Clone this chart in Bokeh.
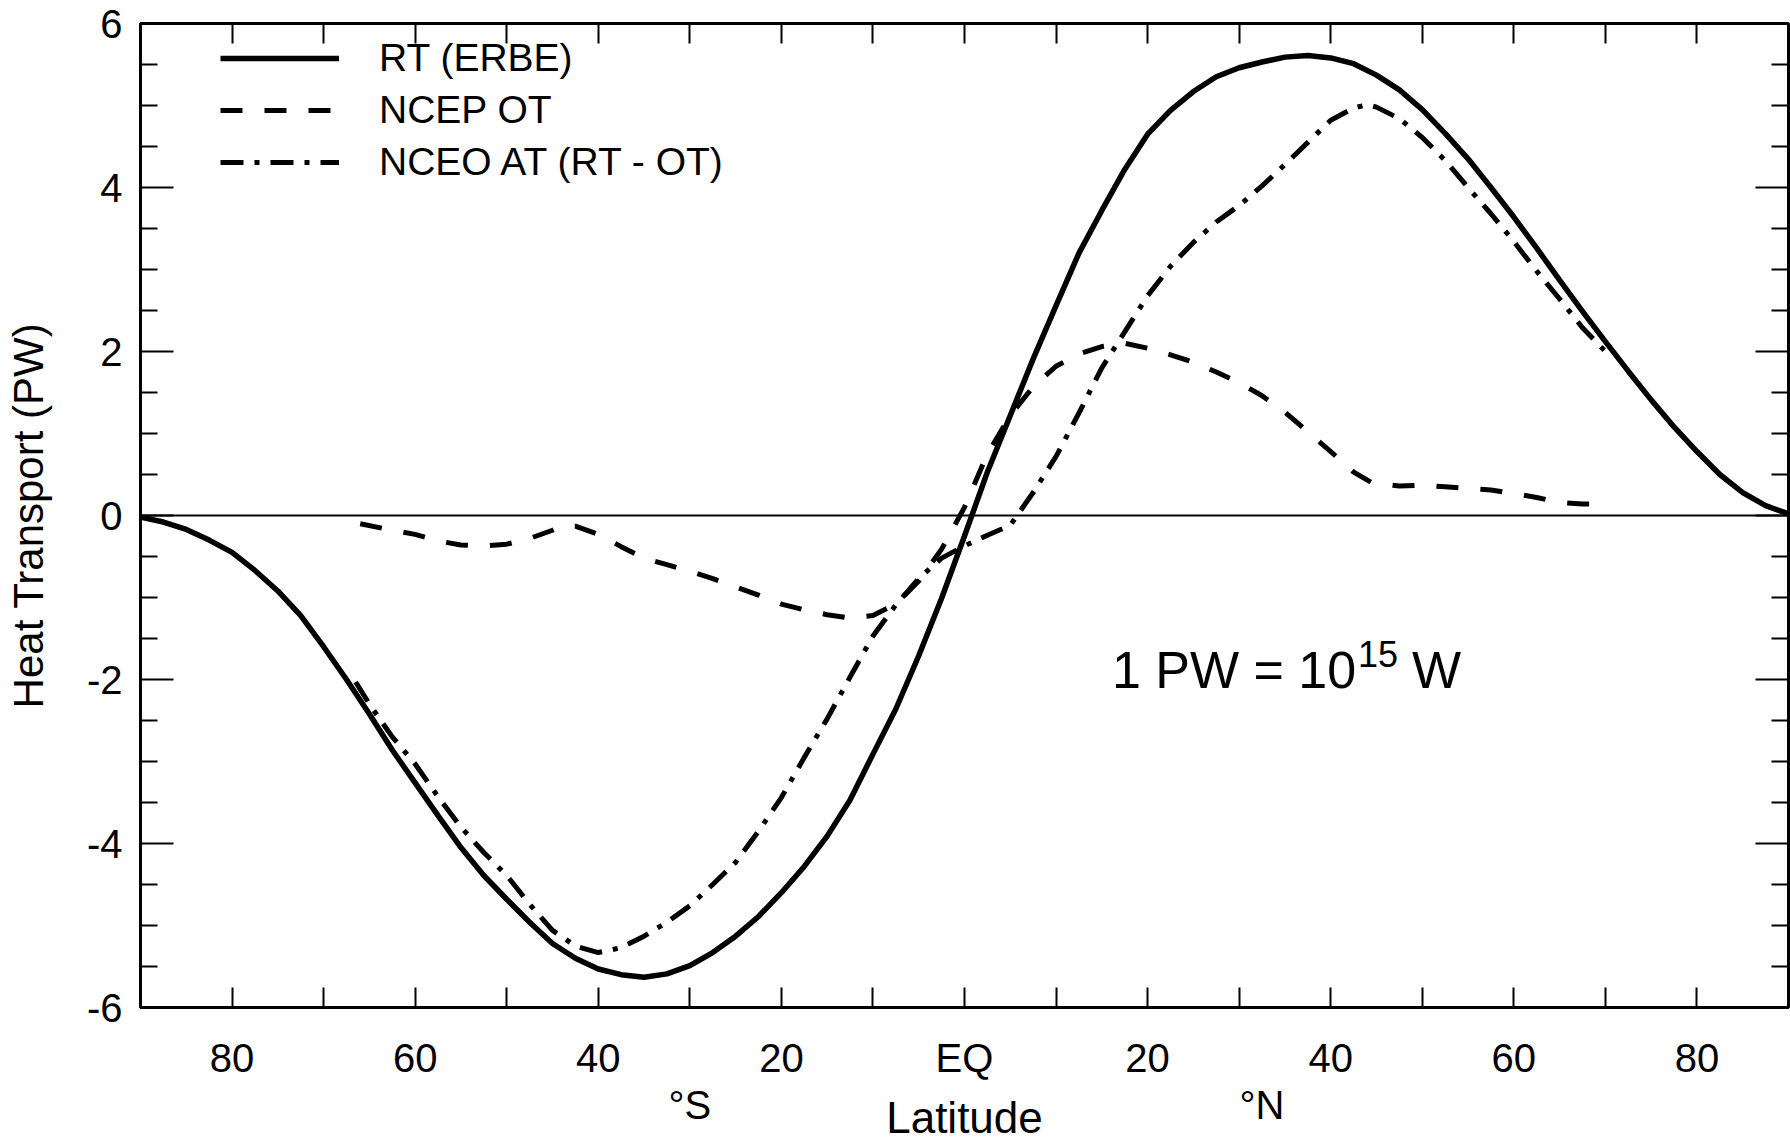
import numpy as np
from bokeh.plotting import figure
from bokeh.models import (FixedTicker, LinearAxis, Span, Label, Legend, LegendItem,
                          CustomJSTickFormatter, Range1d)
from bokeh.embed import file_html
from bokeh.resources import INLINE

FONT = "Liberation Sans"

# ---------------- data ----------------
lat_rt = [-90, -87.5, -85, -82.5, -80, -77.5, -75, -72.5, -70, -67.5, -65, -62.5, -60,
          -57.5, -55, -52.5, -50, -47.5, -45, -42.5, -40, -37.5, -35, -32.5, -30, -27.5,
          -25, -22.5, -20, -17.5, -15, -12.5, -10, -7.5, -5, -2.5, 0, 2.5, 5, 7.5, 10,
          12.5, 15, 17.5, 20, 22.5, 25, 27.5, 30, 32.5, 35, 37.5, 40, 42.5, 45, 47.5,
          50, 52.5, 55, 57.5, 60, 62.5, 65, 67.5, 70, 72.5, 75, 77.5, 80, 82.5, 85,
          87.5, 90]
rt = [-0.02, -0.08, -0.17, -0.30, -0.45, -0.67, -0.92, -1.22, -1.60, -2.00, -2.42, -2.86,
      -3.26, -3.66, -4.05, -4.39, -4.68, -4.96, -5.22, -5.40, -5.53, -5.60, -5.63, -5.59,
      -5.49, -5.33, -5.13, -4.89, -4.60, -4.28, -3.91, -3.47, -2.91, -2.36, -1.71, -1.01,
      -0.25, 0.53, 1.22, 1.91, 2.56, 3.20, 3.72, 4.22, 4.65, 4.94, 5.17, 5.35, 5.46,
      5.53, 5.59, 5.61, 5.58, 5.51, 5.37, 5.19, 4.95, 4.66, 4.35, 4.00, 3.64, 3.26,
      2.87, 2.49, 2.12, 1.76, 1.41, 1.08, 0.78, 0.50, 0.28, 0.12, 0.02]

lat_ot = [-66, -62.5, -60, -57.5, -55, -52.5, -50, -47.5, -45, -44, -42.5, -40, -37.5,
          -35, -32.5, -30, -27.5, -25, -22.5, -20, -17.5, -15, -12.5, -10, -7.5, -5,
          -2.5, 0, 2.5, 5, 7.5, 10, 12.5, 15, 17.5, 20, 22.5, 25, 27.5, 30, 32.5, 35,
          37.5, 40, 42.5, 44.5, 47.5, 50, 52.5, 55, 57.5, 60, 62.5, 65, 67.5, 70]
ot = [-0.10, -0.18, -0.23, -0.31, -0.36, -0.37, -0.35, -0.28, -0.18, -0.13, -0.13, -0.23,
      -0.38, -0.52, -0.60, -0.68, -0.77, -0.87, -0.97, -1.08, -1.15, -1.21, -1.25, -1.22,
      -1.08, -0.80, -0.41, 0.10, 0.75, 1.22, 1.57, 1.82, 1.97, 2.06, 2.10, 2.04, 1.96,
      1.87, 1.75, 1.62, 1.46, 1.26, 1.02, 0.78, 0.53, 0.40, 0.36, 0.37, 0.35, 0.33,
      0.31, 0.27, 0.22, 0.16, 0.14, 0.14]

lat_at = [-66.5, -65, -62.5, -60, -57.5, -55, -52.5, -50, -47.5, -45, -42.5, -40, -37.5,
          -35, -32.5, -30, -27.5, -25, -22.5, -20, -17.5, -15, -12.5, -10, -7.5, -5,
          -2.5, 0, 2.5, 5, 7.5, 10, 12.5, 15, 17.5, 20, 22.5, 25, 27.5, 30, 32.5, 35,
          37.5, 40, 42.5, 44, 45, 47.5, 50, 52.5, 55, 57.5, 60, 62.5, 65, 67.5, 70]
at = [-2.03, -2.30, -2.70, -3.03, -3.43, -3.80, -4.11, -4.39, -4.74, -5.06, -5.25, -5.33,
      -5.27, -5.13, -4.96, -4.76, -4.50, -4.23, -3.85, -3.44, -2.95, -2.48, -1.97, -1.47,
      -1.09, -0.77, -0.52, -0.37, -0.24, -0.12, 0.28, 0.72, 1.25, 1.80, 2.24, 2.68,
      3.04, 3.33, 3.58, 3.78, 4.02, 4.28, 4.55, 4.82, 4.97, 5.01, 4.98, 4.84, 4.61,
      4.33, 4.00, 3.68, 3.34, 2.98, 2.64, 2.29, 2.00]

series_names = ["RT (ERBE)", "NCEP OT", "NCEO AT (RT - OT)"]

x_label_pos = [-80, -60, -40, -20, 0, 20, 40, 60, 80]
x_labels = ["80", "60", "40", "20", "EQ", "20", "40", "60", "80"]
x_minor_pos = [-70, -50, -30, -10, 10, 30, 50, 70]
hemi_pos = [-30, 32.5]
hemi_labels = ["°S", "°N"]
y_tick_pos = [-6, -4, -2, 0, 2, 4, 6]
y_tick_labels = ["-6", "-4", "-2", "0", "2", "4", "6"]
y_minor_pos = [-5.5, -5, -4.5, -3.5, -3, -2.5, -1.5, -1, -0.5, 0.5, 1, 1.5, 2.5, 3, 3.5,
               4.5, 5, 5.5]
y_title = "Heat Transport (PW)"
x_title = "Latitude"


def fmt(pos, labels):
    return CustomJSTickFormatter(args=dict(pos=pos, labels=labels), code="""
        for (let i = 0; i < pos.length; i++) {
            if (Math.abs(pos[i] - tick) < 1e-6) { return labels[i]; }
        }
        return "";
    """)


p = figure(width=1790, height=1144, x_range=Range1d(-90, 90), y_range=Range1d(-6, 6),
           output_backend="svg", toolbar_location=None,
           min_border_left=140, min_border_right=2, min_border_top=23,
           min_border_bottom=137, background_fill_color="white",
           border_fill_color="white")
p.grid.visible = False
p.outline_line_color = "black"
p.outline_line_width = 3


def style(ax, tick_in, minor_in=0, labels=True, size="40px"):
    ax.axis_line_color = None
    ax.major_tick_in = tick_in
    ax.major_tick_out = 0
    ax.minor_tick_in = minor_in
    ax.minor_tick_out = 0
    ax.major_tick_line_width = 2
    ax.minor_tick_line_width = 2
    ax.major_tick_line_color = "black"
    ax.minor_tick_line_color = "black" if minor_in else None
    ax.major_label_text_font = FONT
    ax.major_label_text_font_size = size
    ax.major_label_text_color = "black" if labels else None
    ax.axis_label_text_font = FONT
    ax.axis_label_text_font_style = "normal"
    ax.axis_label_text_color = "black"


# bottom axis: labelled ticks every 20 deg, plain ticks in between
xb = p.xaxis[0]
xb.ticker = FixedTicker(ticks=x_label_pos, minor_ticks=x_minor_pos)
xb.formatter = fmt(x_label_pos, x_labels)
style(xb, 20, 20)
xb.major_label_standoff = 28

# hemisphere labels + Latitude title
xh = LinearAxis(ticker=FixedTicker(ticks=hemi_pos), formatter=fmt(hemi_pos, hemi_labels))
style(xh, 0)
xh.major_tick_line_color = None
xh.major_label_standoff = 0
xh.axis_label = x_title
xh.axis_label_text_font_size = "44px"
xh.axis_label_standoff = -37
p.add_layout(xh, "below")

# top axis (ticks only)
xt = LinearAxis(ticker=FixedTicker(ticks=x_label_pos, minor_ticks=x_minor_pos))
style(xt, 20, 20, labels=False)
xt.major_label_standoff = 0
p.add_layout(xt, "above")

# left axis
yl = p.yaxis[0]
yl.ticker = FixedTicker(ticks=y_tick_pos, minor_ticks=y_minor_pos)
yl.formatter = fmt(y_tick_pos, y_tick_labels)
style(yl, 33, 17)
yl.major_label_standoff = 18
yl.axis_label = y_title
yl.axis_label_text_font_size = "42px"
yl.axis_label_standoff = 32

# right axis (ticks only)
yr = LinearAxis(ticker=FixedTicker(ticks=y_tick_pos, minor_ticks=y_minor_pos))
style(yr, 33, 17, labels=False)
yr.major_label_standoff = 0
p.add_layout(yr, "right")

# zero line
p.add_layout(Span(location=0, dimension="width", line_color="black", line_width=2))

# curves
r_rt = p.line(lat_rt, rt, line_color="black", line_width=5.5)
r_ot = p.line(lat_ot, ot, line_color="black", line_width=5, line_dash="22 22",
              line_cap="butt")
r_at = p.line(lat_at, at, line_color="black", line_width=5, line_dash="23 11 5 11",
              line_cap="butt")

legend = Legend(items=[LegendItem(label=series_names[0], renderers=[r_rt]),
                       LegendItem(label=series_names[1], renderers=[r_ot]),
                       LegendItem(label=series_names[2], renderers=[r_at])],
                location=(80, 823), glyph_width=119, glyph_height=40, label_height=40,
                label_standoff=40, spacing=8, padding=0, margin=0,
                border_line_color=None, background_fill_alpha=0,
                label_text_font=FONT, label_text_font_size="39px",
                label_text_color="black")
p.add_layout(legend)

# annotation 1 PW = 10^15 W
ann_x, ann_y = 16.1, -1.89
p.add_layout(Label(x=ann_x, y=ann_y, text="1 PW = 10", text_font=FONT,
                   text_font_size="52px", text_baseline="alphabetic",
                   text_color="black"))
p.add_layout(Label(x=ann_x, y=ann_y, x_offset=246, y_offset=16, text="15",
                   text_font=FONT, text_font_size="36px", text_baseline="alphabetic",
                   text_color="black"))
p.add_layout(Label(x=ann_x, y=ann_y, x_offset=300, text="W", text_font=FONT,
                   text_font_size="52px", text_baseline="alphabetic",
                   text_color="black"))

open("out.html", "w").write(file_html(p, INLINE))
